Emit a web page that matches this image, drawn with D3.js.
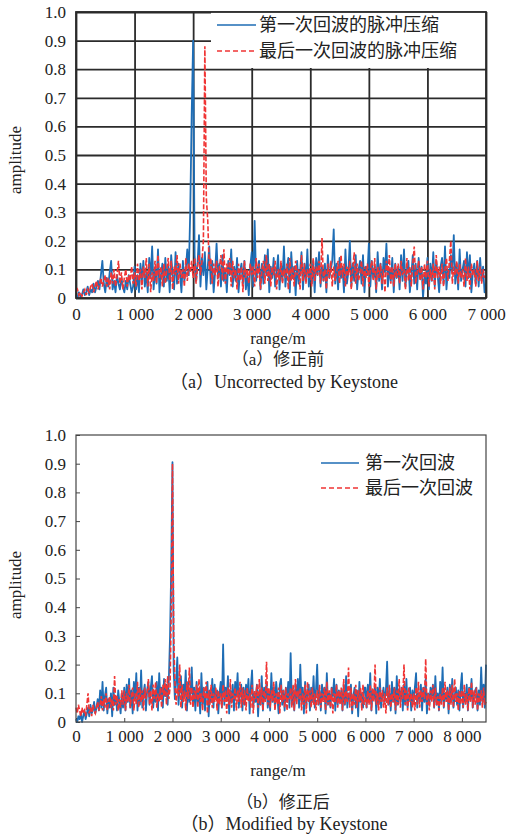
<!DOCTYPE html>
<html>
<head>
<meta charset="utf-8">
<script src="https://cdn.jsdelivr.net/npm/d3@7"></script>
<style>
  body { margin: 0; background: #fff; }
</style>
</head>
<body>
<svg id="chart" width="507" height="835"></svg>
<script>
// ---- data ----
const ampTicks = [0, 0.1, 0.2, 0.3, 0.4, 0.5, 0.6, 0.7, 0.8, 0.9, 1.0];
const ampTickLabels = ["0", "0.1", "0.2", "0.3", "0.4", "0.5", "0.6", "0.7", "0.8", "0.9", "1.0"];

const rangeTicksA = [0, 1000, 2000, 3000, 4000, 5000, 6000, 7000];
const rangeTickLabelsA = ["0", "1 000", "2 000", "3 000", "4 000", "5 000", "6 000", "7 000"];
const rangeTicksB = [0, 1000, 2000, 3000, 4000, 5000, 6000, 7000, 8000];
const rangeTickLabelsB = ["0", "1 000", "2 000", "3 000", "4 000", "5 000", "6 000", "7 000", "8 000"];

// one sample every 25 m, starting at 0 m (one row = 500 m)
const sampleStep = 25;

// (a) uncorrected, 0 - 7000 m
const firstEchoA = [
  0.01, 0.00, 0.02, 0.005, 0.01, 0.03, 0.01, 0.02, 0.04, 0.01, 0.03, 0.02, 0.05, 0.02, 0.04, 0.06, 0.03, 0.08, 0.13, 0.05,
  0.02, 0.07, 0.04, 0.09, 0.13, 0.03, 0.06, 0.02, 0.08, 0.05, 0.03, 0.07, 0.04, 0.02, 0.06, 0.03, 0.08, 0.05, 0.02, 0.04,
  0.11, 0.03, 0.08, 0.02, 0.12, 0.06, 0.13, 0.04, 0.09, 0.02, 0.14, 0.07, 0.18, 0.03, 0.10, 0.05, 0.17, 0.02, 0.08, 0.12,
  0.04, 0.14, 0.06, 0.11, 0.02, 0.15, 0.08, 0.03, 0.16, 0.05, 0.12, 0.09, 0.02, 0.13, 0.06, 0.10, 0.17, 0.08, 0.30, 0.64,
  0.90, 0.15, 0.06, 0.12, 0.22, 0.04, 0.14, 0.08, 0.16, 0.03, 0.11, 0.18, 0.05, 0.13, 0.02, 0.09, 0.19, 0.07, 0.12, 0.04,
  0.15, 0.06, 0.10, 0.02, 0.13, 0.08, 0.17, 0.04, 0.11, 0.06, 0.14, 0.02, 0.09, 0.12, 0.05, 0.13, 0.03, 0.08, 0.01, 0.11,
  0.16, 0.04, 0.27, 0.06, 0.10, 0.13, 0.03, 0.12, 0.05, 0.15, 0.08, 0.17, 0.02, 0.11, 0.07, 0.14, 0.04, 0.09, 0.15, 0.03,
  0.12, 0.06, 0.18, 0.04, 0.10, 0.14, 0.02, 0.16, 0.07, 0.11, 0.01, 0.13, 0.05, 0.09, 0.16, 0.03, 0.12, 0.06, 0.17, 0.04,
  0.10, 0.05, 0.13, 0.02, 0.14, 0.08, 0.16, 0.04, 0.11, 0.06, 0.12, 0.02, 0.15, 0.07, 0.10, 0.13, 0.24, 0.05, 0.12, 0.03,
  0.14, 0.07, 0.11, 0.02, 0.17, 0.05, 0.09, 0.20, 0.04, 0.12, 0.06, 0.15, 0.03, 0.10, 0.13, 0.05, 0.15, 0.02, 0.11, 0.08,
  0.19, 0.04, 0.13, 0.07, 0.11, 0.02, 0.16, 0.06, 0.12, 0.03, 0.14, 0.09, 0.19, 0.04, 0.10, 0.06, 0.14, 0.02, 0.12, 0.07,
  0.11, 0.03, 0.15, 0.06, 0.17, 0.04, 0.10, 0.13, 0.02, 0.08, 0.15, 0.05, 0.12, 0.03, 0.14, 0.07, 0.11, 0.00, 0.08, 0.05,
  0.14, 0.03, 0.12, 0.06, 0.16, 0.04, 0.13, 0.08, 0.02, 0.11, 0.14, 0.05, 0.18, 0.03, 0.10, 0.07, 0.15, 0.09, 0.22, 0.05,
  0.12, 0.03, 0.17, 0.06, 0.10, 0.13, 0.04, 0.16, 0.07, 0.15, 0.02, 0.09, 0.12, 0.05, 0.13, 0.04, 0.14, 0.06, 0.11, 0.02,
  0.05
];
const lastEchoA = [
  0.02, 0.03, 0.01, 0.02, 0.005, 0.02, 0.03, 0.01, 0.03, 0.02, 0.04, 0.05, 0.02, 0.04, 0.06, 0.03, 0.05, 0.07, 0.04, 0.06,
  0.08, 0.04, 0.07, 0.03, 0.09, 0.05, 0.10, 0.04, 0.08, 0.13, 0.05, 0.09, 0.03, 0.07, 0.10, 0.04, 0.08, 0.06, 0.11, 0.05,
  0.09, 0.04, 0.12, 0.06, 0.10, 0.03, 0.11, 0.07, 0.14, 0.04, 0.12, 0.02, 0.09, 0.06, 0.13, 0.05, 0.15, 0.07, 0.11, 0.04,
  0.12, 0.05, 0.10, 0.14, 0.06, 0.13, 0.03, 0.11, 0.08, 0.15, 0.05, 0.12, 0.07, 0.10, 0.04, 0.14, 0.06, 0.12, 0.09, 0.13,
  0.07, 0.14, 0.05, 0.11, 0.15, 0.08, 0.13, 0.20, 0.88, 0.35, 0.27, 0.10, 0.14, 0.05, 0.12, 0.08, 0.13, 0.04, 0.11, 0.15,
  0.06, 0.17, 0.05, 0.12, 0.08, 0.14, 0.04, 0.13, 0.07, 0.10, 0.03, 0.12, 0.06, 0.11, 0.02, 0.13, 0.07, 0.10, 0.05, 0.12,
  0.08, 0.11, 0.04, 0.14, 0.07, 0.12, 0.03, 0.10, 0.13, 0.05, 0.15, 0.06, 0.12, 0.04, 0.11, 0.08, 0.13, 0.03, 0.10, 0.06,
  0.13, 0.05, 0.10, 0.07, 0.12, 0.03, 0.14, 0.06, 0.11, 0.04, 0.13, 0.08, 0.10, 0.03, 0.15, 0.06, 0.12, 0.05, 0.10, 0.07,
  0.12, 0.04, 0.14, 0.06, 0.11, 0.08, 0.13, 0.05, 0.21, 0.06, 0.10, 0.03, 0.12, 0.07, 0.13, 0.04, 0.11, 0.06, 0.09, 0.13,
  0.05, 0.15, 0.07, 0.12, 0.04, 0.11, 0.08, 0.13, 0.03, 0.10, 0.16, 0.05, 0.12, 0.06, 0.09, 0.13, 0.04, 0.11, 0.07, 0.12,
  0.04, 0.10, 0.13, 0.06, 0.14, 0.03, 0.11, 0.07, 0.12, 0.05, 0.10, 0.02, 0.13, 0.08, 0.15, 0.05, 0.11, 0.04, 0.12, 0.07,
  0.12, 0.05, 0.13, 0.08, 0.10, 0.03, 0.14, 0.06, 0.11, 0.04, 0.12, 0.18, 0.05, 0.09, 0.13, 0.06, 0.11, 0.03, 0.12, 0.07,
  0.13, 0.04, 0.10, 0.06, 0.12, 0.03, 0.15, 0.07, 0.11, 0.05, 0.12, 0.04, 0.10, 0.14, 0.06, 0.13, 0.20, 0.05, 0.11, 0.08,
  0.13, 0.05, 0.12, 0.07, 0.10, 0.04, 0.14, 0.06, 0.11, 0.03, 0.12, 0.08, 0.10, 0.04, 0.13, 0.06, 0.11, 0.05, 0.10, 0.07,
  0.09
];

// (b) after keystone correction, 0 - 8500 m
const firstEchoB = [
  0.01, 0.00, 0.02, 0.01, 0.03, 0.00, 0.02, 0.04, 0.01, 0.03, 0.05, 0.02, 0.06, 0.03, 0.04, 0.07, 0.03, 0.05, 0.08, 0.04,
  0.11, 0.05, 0.14, 0.04, 0.09, 0.12, 0.03, 0.08, 0.05, 0.10, 0.02, 0.12, 0.06, 0.09, 0.04, 0.11, 0.07, 0.03, 0.10, 0.05,
  0.12, 0.04, 0.13, 0.07, 0.15, 0.05, 0.11, 0.03, 0.14, 0.08, 0.17, 0.04, 0.12, 0.06, 0.18, 0.05, 0.10, 0.13, 0.04, 0.11,
  0.14, 0.06, 0.12, 0.16, 0.05, 0.10, 0.07, 0.14, 0.04, 0.17, 0.08, 0.12, 0.05, 0.15, 0.09, 0.13, 0.06, 0.15, 0.30, 0.55,
  0.905, 0.18, 0.08, 0.14, 0.225, 0.06, 0.12, 0.16, 0.05, 0.13, 0.09, 0.18, 0.04, 0.14, 0.07, 0.11, 0.19, 0.06, 0.12, 0.04,
  0.14, 0.07, 0.11, 0.03, 0.17, 0.06, 0.12, 0.04, 0.10, 0.14, 0.02, 0.11, 0.07, 0.15, 0.05, 0.13, 0.08, 0.11, 0.03, 0.10,
  0.14, 0.05, 0.27, 0.06, 0.12, 0.08, 0.16, 0.03, 0.11, 0.07, 0.13, 0.04, 0.14, 0.09, 0.17, 0.05, 0.10, 0.13, 0.04, 0.12,
  0.06, 0.13, 0.09, 0.15, 0.03, 0.12, 0.18, 0.05, 0.10, 0.07, 0.13, 0.02, 0.11, 0.06, 0.16, 0.04, 0.12, 0.08, 0.14, 0.05,
  0.10, 0.04, 0.17, 0.07, 0.12, 0.05, 0.14, 0.09, 0.03, 0.13, 0.15, 0.06, 0.11, 0.04, 0.12, 0.07, 0.14, 0.05, 0.24, 0.06,
  0.11, 0.04, 0.13, 0.08, 0.15, 0.05, 0.20, 0.07, 0.12, 0.03, 0.14, 0.06, 0.10, 0.13, 0.04, 0.12, 0.07, 0.16, 0.05, 0.11,
  0.20, 0.06, 0.11, 0.04, 0.13, 0.08, 0.12, 0.03, 0.17, 0.06, 0.10, 0.05, 0.12, 0.09, 0.15, 0.04, 0.13, 0.06, 0.11, 0.07,
  0.11, 0.04, 0.13, 0.06, 0.16, 0.05, 0.10, 0.08, 0.13, 0.03, 0.09, 0.12, 0.05, 0.11, 0.02, 0.14, 0.07, 0.10, 0.05, 0.12,
  0.12, 0.05, 0.13, 0.07, 0.17, 0.04, 0.11, 0.08, 0.13, 0.03, 0.12, 0.06, 0.15, 0.05, 0.09, 0.12, 0.07, 0.11, 0.21, 0.06,
  0.10, 0.04, 0.14, 0.07, 0.12, 0.03, 0.16, 0.06, 0.11, 0.08, 0.12, 0.04, 0.13, 0.06, 0.15, 0.05, 0.09, 0.12, 0.04, 0.11,
  0.07, 0.12, 0.17, 0.05, 0.10, 0.08, 0.13, 0.04, 0.12, 0.07, 0.15, 0.03, 0.10, 0.06, 0.12, 0.09, 0.13, 0.05, 0.16, 0.06,
  0.10, 0.04, 0.14, 0.07, 0.19, 0.05, 0.10, 0.08, 0.12, 0.03, 0.13, 0.07, 0.15, 0.05, 0.09, 0.12, 0.06, 0.11, 0.04, 0.12,
  0.17, 0.05, 0.10, 0.07, 0.13, 0.04, 0.12, 0.08, 0.15, 0.05, 0.09, 0.11, 0.12, 0.04, 0.11, 0.06, 0.19, 0.07, 0.13, 0.05,
  0.20
];
const lastEchoB = [
  0.05, 0.03, 0.06, 0.04, 0.02, 0.05, 0.03, 0.04, 0.02, 0.06, 0.10, 0.03, 0.05, 0.02, 0.06, 0.04, 0.03, 0.05, 0.07, 0.04,
  0.06, 0.09, 0.04, 0.08, 0.05, 0.10, 0.04, 0.07, 0.09, 0.05, 0.08, 0.04, 0.16, 0.06, 0.09, 0.04, 0.08, 0.05, 0.11, 0.06,
  0.11, 0.04, 0.10, 0.07, 0.13, 0.05, 0.09, 0.12, 0.04, 0.10, 0.06, 0.14, 0.05, 0.12, 0.07, 0.11, 0.04, 0.12, 0.08, 0.10,
  0.15, 0.06, 0.11, 0.04, 0.13, 0.08, 0.14, 0.05, 0.10, 0.07, 0.12, 0.05, 0.13, 0.09, 0.15, 0.06, 0.16, 0.08, 0.12, 0.40,
  0.90, 0.30, 0.14, 0.06, 0.12, 0.09, 0.20, 0.05, 0.13, 0.07, 0.11, 0.04, 0.14, 0.08, 0.19, 0.06, 0.12, 0.05, 0.11, 0.08,
  0.13, 0.05, 0.15, 0.07, 0.10, 0.04, 0.12, 0.08, 0.14, 0.03, 0.11, 0.06, 0.13, 0.05, 0.10, 0.07, 0.12, 0.04, 0.11, 0.06,
  0.10, 0.05, 0.13, 0.07, 0.11, 0.03, 0.12, 0.06, 0.15, 0.05, 0.10, 0.08, 0.12, 0.04, 0.11, 0.07, 0.14, 0.05, 0.12, 0.06,
  0.11, 0.04, 0.12, 0.07, 0.10, 0.05, 0.13, 0.03, 0.11, 0.08, 0.13, 0.05, 0.15, 0.06, 0.12, 0.04, 0.11, 0.07, 0.21, 0.06,
  0.12, 0.05, 0.11, 0.07, 0.14, 0.04, 0.10, 0.06, 0.12, 0.03, 0.13, 0.07, 0.11, 0.05, 0.12, 0.04, 0.10, 0.08, 0.12, 0.05,
  0.13, 0.04, 0.15, 0.06, 0.11, 0.08, 0.12, 0.04, 0.10, 0.06, 0.13, 0.03, 0.14, 0.07, 0.11, 0.05, 0.12, 0.06, 0.10, 0.04,
  0.11, 0.06, 0.13, 0.05, 0.10, 0.07, 0.12, 0.04, 0.14, 0.06, 0.11, 0.05, 0.12, 0.03, 0.10, 0.07, 0.13, 0.05, 0.11, 0.06,
  0.12, 0.04, 0.15, 0.06, 0.11, 0.07, 0.19, 0.05, 0.12, 0.04, 0.10, 0.06, 0.13, 0.05, 0.11, 0.07, 0.12, 0.04, 0.13, 0.06,
  0.09, 0.05, 0.11, 0.06, 0.13, 0.04, 0.12, 0.07, 0.20, 0.06, 0.10, 0.04, 0.12, 0.07, 0.11, 0.05, 0.10, 0.03, 0.12, 0.06,
  0.13, 0.05, 0.10, 0.07, 0.12, 0.04, 0.11, 0.06, 0.15, 0.05, 0.12, 0.08, 0.20, 0.06, 0.11, 0.04, 0.12, 0.07, 0.10, 0.05,
  0.10, 0.04, 0.12, 0.06, 0.14, 0.05, 0.11, 0.07, 0.12, 0.08, 0.22, 0.06, 0.10, 0.04, 0.11, 0.07, 0.13, 0.05, 0.12, 0.06,
  0.09, 0.04, 0.10, 0.06, 0.12, 0.05, 0.14, 0.07, 0.11, 0.04, 0.12, 0.06, 0.13, 0.05, 0.15, 0.07, 0.10, 0.04, 0.11, 0.06,
  0.11, 0.05, 0.13, 0.06, 0.10, 0.04, 0.12, 0.07, 0.14, 0.05, 0.11, 0.06, 0.12, 0.04, 0.10, 0.07, 0.11, 0.05, 0.12, 0.06,
  0.07
];

const legendA = ["第一次回波的脉冲压缩", "最后一次回波的脉冲压缩"];
const legendB = ["第一次回波", "最后一次回波"];

const blue = "#1e6db5", red = "#f03434";
const serif = '"Liberation Serif", "Noto Sans CJK SC", serif';
const cjk = '"Noto Sans CJK SC", sans-serif';
const left = 76, right = 486;
const svg = d3.select("#chart");


function addText(g, x, y, str, size, family) {
  return g.append("text")
    .attr("x", x).attr("y", y)
    .attr("text-anchor", "middle")
    .attr("dy", "0.35em")
    .style("font-family", family || serif)
    .style("font-size", size + "px")
    .style("fill", "#222")
    .text(str);
}

function drawPanel(p) {
  const x = d3.scaleLinear().domain([0, p.xMax]).range([left, right]);
  const y = d3.scaleLinear().domain([0, 1]).range([p.bottom, p.top]);
  const g = svg.append("g");

  // axes: full gridlines for (a), short inward ticks for (b)
  const yAxis = d3.axisLeft(y)
    .tickValues(ampTicks)
    .tickFormat((d, i) => ampTickLabels[i])
    .tickSize(p.grid ? -(right - left) : -4)
    .tickPadding(10);
  const xAxis = d3.axisBottom(x)
    .tickValues(p.xTicks)
    .tickFormat((d, i) => p.xLabels[i])
    .tickSize(p.grid ? -(p.bottom - p.top) : -4)
    .tickPadding(p.labelPad);

  const ya = g.append("g").attr("transform", `translate(${left},0)`).call(yAxis);
  const xa = g.append("g").attr("transform", `translate(0,${p.bottom})`).call(xAxis);
  [ya, xa].forEach(a => {
    a.attr("font-family", null).attr("font-size", null);
    a.select(".domain").remove();
    a.selectAll("line")
      .attr("stroke", p.grid ? "#2b2b2b" : "#444")
      .attr("stroke-width", p.grid ? 1.8 : 1);
    a.selectAll("text")
      .style("font-family", '"Liberation Serif", serif')
      .style("font-size", "17px")
      .style("fill", "#222");
  });

  /* --------- SERIES --------- */
  const line = d3.line()
    .x((d, i) => x(i * sampleStep))
    .y(d => y(d));

  g.append("path")
    .datum(p.first)
    .attr("d", line)
    .attr("fill", "none")
    .attr("stroke", blue)
    .attr("stroke-width", 1.8)
    .attr("stroke-linejoin", "round");

  g.append("path")
    .datum(p.last)
    .attr("d", line)
    .attr("fill", "none")
    .attr("stroke", red)
    .attr("stroke-width", 1.6)
    .attr("stroke-dasharray", "5,2");

  /* --------- LEGEND --------- */
  if (p.legendBox) {
    g.append("rect")
      .attr("x", p.legendBox[0]).attr("y", p.top)
      .attr("width", right - p.legendBox[0]).attr("height", p.legendBox[1] - p.top)
      .attr("fill", "#fff");
  }
  p.legend.forEach((name, i) => {
    const ly = p.legendY[i];
    g.append("line")
      .attr("x1", p.legendX[0]).attr("x2", p.legendX[1])
      .attr("y1", ly).attr("y2", ly)
      .attr("stroke", i === 0 ? blue : red)
      .attr("stroke-width", 1.5)
      .attr("stroke-dasharray", i === 0 ? null : "5,3");
    addText(g, p.legendX[2], ly, name, 18, cjk).attr("text-anchor", "start");
  });

  // frame
  g.append("rect")
    .attr("x", left).attr("y", p.top)
    .attr("width", right - left).attr("height", p.bottom - p.top)
    .attr("fill", "none")
    .attr("stroke", p.grid ? "#2b2b2b" : "#444")
    .attr("stroke-width", p.grid ? 1.8 : 1.2);

  /* --------- TITLES --------- */
  addText(g, 0, 0, "amplitude", 17)
    .attr("x", null).attr("y", null)
    .attr("transform", `translate(15,${p.ampY}) rotate(-90)`);
  addText(g, 278, p.rangeY, "range/m", 17);
  addText(g, p.capX, p.capY[0], p.caption[0], 17);
  addText(g, 284, p.capY[1], p.caption[1], 18);
}

drawPanel({
  top: 12, bottom: 298, xMax: 7000, grid: true, labelPad: 10,
  xTicks: rangeTicksA, xLabels: rangeTickLabelsA,
  first: firstEchoA, last: lastEchoA,
  legend: legendA, legendBox: [211, 68], legendX: [217, 256, 259], legendY: [25, 51],
  ampY: 160, rangeY: 338, capX: 278, capY: [359, 382],
  caption: ["（a）修正前", "（a）Uncorrected by Keystone"]
});

drawPanel({
  top: 435, bottom: 722, xMax: 8500, grid: false, labelPad: 8,
  xTicks: rangeTicksB, xLabels: rangeTickLabelsB,
  first: firstEchoB, last: lastEchoB,
  legend: legendB, legendBox: null, legendX: [321, 359, 365], legendY: [463, 488],
  ampY: 585, rangeY: 770, capX: 283, capY: [802, 824],
  caption: ["（b）修正后", "（b）Modified by Keystone"]
});
</script>
</body>
</html>
